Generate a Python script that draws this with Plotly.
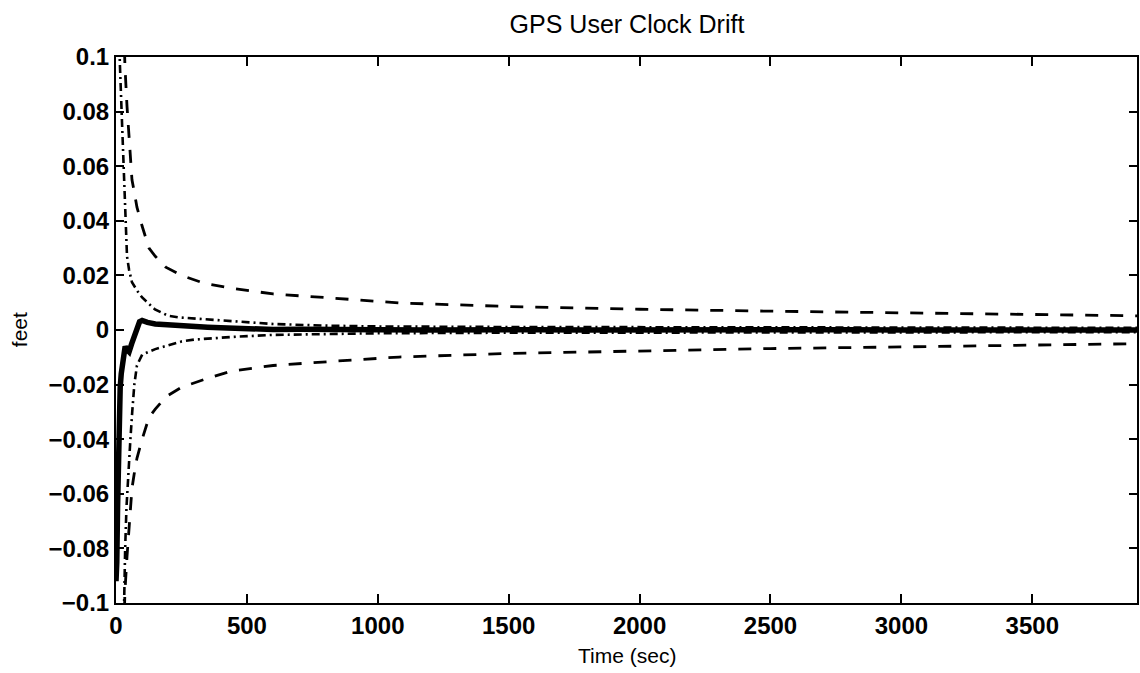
import plotly.graph_objects as go

# ---------------- data ----------------
# solid: clock drift estimation error
t_err = [0, 3, 6, 9, 12, 16, 20, 25, 30, 35, 40, 50, 60, 70, 80, 90, 100, 110, 120, 150,
         200, 250, 300, 350, 400, 450, 500, 600, 700, 800, 900, 1000, 1200, 1400, 1600,
         1800, 2000, 2200, 2400, 2600, 2800, 3000, 3200, 3400, 3600, 3800, 3900]
err = [-0.092, -0.085, -0.065, -0.045, -0.03, -0.021, -0.016, -0.012, -0.009, -0.006, -0.007,
       -0.008, -0.005, -0.002, 0.001, 0.003, 0.0035, 0.003, 0.0028, 0.0022,
       0.0018, 0.0015, 0.0012, 0.001, 0.0008, 0.0006, 0.0004, 0.0002, 0.0003, 0.0001, 0.0002,
       0.0001, 0.0, 0.0002, 0.0001, 0.0, 0.0001, 0.0, 0.0001, 0.0, 0.0001, 0.0, 0.0,
       0.0001, 0.0, 0.0, 0.0]

# dashed: +/- covariance bound
t_bound = [25, 34, 42, 50, 61, 69, 80, 100, 126, 150, 190, 250, 340, 443, 600, 825,
           1081, 1500, 2000, 2500, 3000, 3500, 3900]
upper_bound = [0.13, 0.097, 0.082, 0.07, 0.055, 0.051, 0.045, 0.038, 0.030, 0.027, 0.023,
               0.020, 0.017, 0.0153, 0.0132, 0.0117, 0.0099, 0.0086, 0.0076, 0.0069,
               0.0063, 0.0057, 0.0052]
lower_bound = [-0.13, -0.096, -0.083, -0.073, -0.058, -0.053, -0.047, -0.040, -0.032, -0.029,
               -0.0245, -0.021, -0.018, -0.0150, -0.0130, -0.0115, -0.0099, -0.0086, -0.0076,
               -0.0068, -0.0062, -0.0056, -0.0050]

# dash-dot: filter sigma bounds
t_upper_dd = [5, 12, 15, 23, 31, 35, 42, 50, 61, 80, 99, 149, 200, 241, 340, 450, 600, 800,
              1000, 1500, 2000, 3000, 3900]
upper_dd = [0.13, 0.105, 0.097, 0.076, 0.054, 0.040, 0.027, 0.022, 0.0175, 0.0145, 0.012,
            0.0075, 0.0052, 0.0046, 0.004, 0.0033, 0.0022, 0.0016, 0.0013, 0.0011, 0.001,
            0.0009, 0.0008]
t_lower_dd = [25, 30, 35, 40, 48, 55, 62, 70, 80, 100, 150, 200, 250, 300, 450, 600, 800,
              1000, 1500, 2000, 3000, 3900]
lower_dd = [-0.13, -0.1, -0.08, -0.065, -0.05, -0.04, -0.03, -0.02, -0.013, -0.009, -0.007,
            -0.0055, -0.0042, -0.0035, -0.0025, -0.0018, -0.0014, -0.0012, -0.001, -0.0009,
            -0.0008, -0.0008]

x_ticks = [0, 500, 1000, 1500, 2000, 2500, 3000, 3500]
y_ticks = [-0.1, -0.08, -0.06, -0.04, -0.02, 0, 0.02, 0.04, 0.06, 0.08, 0.1]
y_tick_text = ["\u22120.1", "\u22120.08", "\u22120.06", "\u22120.04", "\u22120.02", "0",
               "0.02", "0.04", "0.06", "0.08", "0.1"]

FONT = "Liberation Sans, Arial, Helvetica, sans-serif"

fig = go.Figure()
fig.add_trace(go.Scatter(x=t_bound, y=upper_bound, mode="lines",
                         line=dict(color="black", width=2.8, dash="13px,12px")))
fig.add_trace(go.Scatter(x=t_bound, y=lower_bound, mode="lines",
                         line=dict(color="black", width=2.8, dash="13px,12px")))
fig.add_trace(go.Scatter(x=t_upper_dd, y=upper_dd, mode="lines",
                         line=dict(color="black", width=2.6, dash="8px,4px,2px,4px")))
fig.add_trace(go.Scatter(x=t_lower_dd, y=lower_dd, mode="lines",
                         line=dict(color="black", width=2.6, dash="8px,4px,2px,4px")))
fig.add_trace(go.Scatter(x=t_err, y=err, mode="lines",
                         line=dict(color="black", width=5.5)))

axis_common = dict(showline=True, linecolor="black", linewidth=2, mirror="ticks",
                   ticks="inside", tickcolor="black", tickwidth=2, showgrid=False,
                   zeroline=False,
                   tickfont=dict(family=FONT, size=24, color="black", weight="bold"))

fig.update_xaxes(range=[0, 3900], tickvals=x_ticks, ticklen=9, **axis_common)
fig.update_yaxes(range=[-0.1, 0.1], tickvals=y_ticks, ticktext=y_tick_text, ticklen=8,
                 **axis_common)

fig.update_layout(
    width=1140, height=673,
    margin=dict(l=116, r=1, t=57, b=70),
    paper_bgcolor="white", plot_bgcolor="white",
    showlegend=False,
    title=dict(text="GPS User Clock Drift", x=627 / 1140, xref="container", xanchor="center",
               y=1 - 24 / 673, yref="container", yanchor="middle",
               font=dict(family=FONT, size=25, color="black")),
    annotations=[
        dict(text="Time (sec)", x=0.5, xref="paper", y=(603 - 655) / 546, yref="paper",
             xanchor="center", yanchor="middle", showarrow=False,
             font=dict(family=FONT, size=21, color="black")),
        dict(text="feet", x=(19 - 116) / 1023, xref="paper", y=0.5, yref="paper",
             xanchor="center", yanchor="middle", textangle=-90, showarrow=False,
             font=dict(family=FONT, size=21, color="black")),
    ],
)

fig.write_html("out.html")
